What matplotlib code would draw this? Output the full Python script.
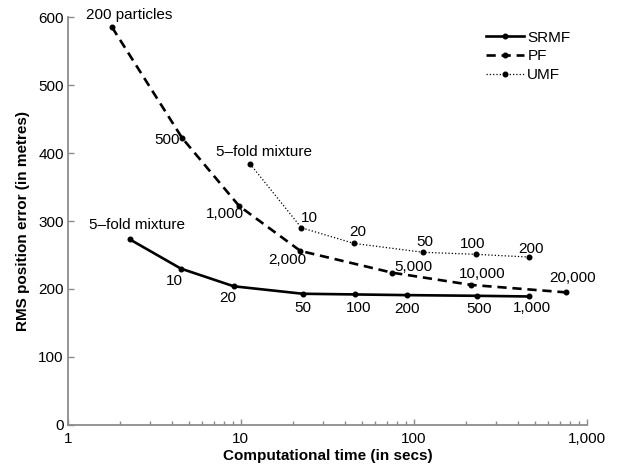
import numpy as np
import matplotlib
matplotlib.use("Agg")
import matplotlib.pyplot as plt
from matplotlib.ticker import FixedLocator, LogLocator, NullFormatter

plt.rcParams['font.family'] = ['Liberation Sans', 'DejaVu Sans']

# data (time in secs, RMS error in metres)
srmf_t = [2.28, 4.5, 9.1, 22.8, 45.6, 91, 231, 462]
srmf_e = [273, 230, 204, 193, 192, 191, 190, 189]
srmf_lab = ["5\u2013fold mixture", "10", "20", "50", "100", "200", "500", "1,000"]

pf_t = [1.8, 4.58, 9.78, 22.1, 75, 215, 763]
pf_e = [585, 422, 322, 256, 224, 206, 195]
pf_lab = ["200 particles", "500", "1,000", "2,000", "5,000", "10,000", "20,000"]

umf_t = [11.3, 22.4, 45.2, 113, 228, 462]
umf_e = [384, 290, 267, 254, 251, 247]
umf_lab = ["5\u2013fold mixture", "10", "20", "50", "100", "200"]

# label offsets in pixels from each point
srmf_off = [(7, 14), (-6, -12), (-6, -12), (0, -14), (4, -14), (0, -14), (2, -13), (3, -12)]
pf_off = [(17, 12), (-15, -2), (-14, -8), (-13, -9), (21, 6), (11, 11), (6, 14)]
umf_off = [(14, 12), (8, 10), (4, 11), (2, 10), (-3, 10), (2, 8)]

fs = 11

fig = plt.figure(figsize=(6.17, 4.66), dpi=100)
ax = fig.add_axes([0.110, 0.088, 0.841, 0.8755])

ax.plot(srmf_t, srmf_e, '-', color='black', lw=1.9, marker='o', ms=3.3, label='SRMF')
ax.plot(pf_t, pf_e, '--', color='black', lw=1.9, dashes=(3.5, 2.2), marker='o', ms=3.3, label='PF')
ax.plot(umf_t, umf_e, ':', color='black', lw=0.9, marker='o', ms=3.3, label='UMF')

for t, e, s, o in zip(srmf_t, srmf_e, srmf_lab, srmf_off):
    ax.annotate(s, (t, e), xytext=o, textcoords='offset pixels', ha='center', va='center', fontsize=fs)
for t, e, s, o in zip(pf_t, pf_e, pf_lab, pf_off):
    ax.annotate(s, (t, e), xytext=o, textcoords='offset pixels', ha='center', va='center', fontsize=fs)
for t, e, s, o in zip(umf_t, umf_e, umf_lab, umf_off):
    ax.annotate(s, (t, e), xytext=o, textcoords='offset pixels', ha='center', va='center', fontsize=fs)

ax.set_xscale('log')
ax.set_xlim(1, 1000)
ax.set_ylim(0, 600)
ax.xaxis.set_major_locator(FixedLocator([1, 10, 100, 1000]))
ax.set_xticklabels(["1", "10", "100", "1,000"])
ax.xaxis.set_minor_locator(LogLocator(base=10, subs=np.arange(2, 10)))
ax.xaxis.set_minor_formatter(NullFormatter())
ax.set_yticks([0, 100, 200, 300, 400, 500, 600])

for side in ['top', 'right']:
    ax.spines[side].set_visible(False)
for side in ['left', 'bottom']:
    ax.spines[side].set_color('#8c8c8c')
    ax.spines[side].set_linewidth(1.3)
ax.tick_params(which='both', direction='in', color='#8c8c8c', labelsize=fs, labelcolor='black')
ax.tick_params(which='major', length=4, width=1)
ax.tick_params(which='minor', length=3, width=1)
ax.tick_params(axis='y', pad=3)
ax.tick_params(axis='x', pad=5)

ax.set_xlabel("Computational time (in secs)", fontsize=fs, fontweight='bold', labelpad=2)
ax.set_ylabel("RMS position error (in metres)", fontsize=fs, fontweight='bold', labelpad=6)

ax.legend(loc='upper right', bbox_to_anchor=(0.995, 1.0), frameon=False, fontsize=fs,
          handlelength=2.5, handletextpad=0.2, labelspacing=0.3)

fig.savefig("out.png", dpi=100)
